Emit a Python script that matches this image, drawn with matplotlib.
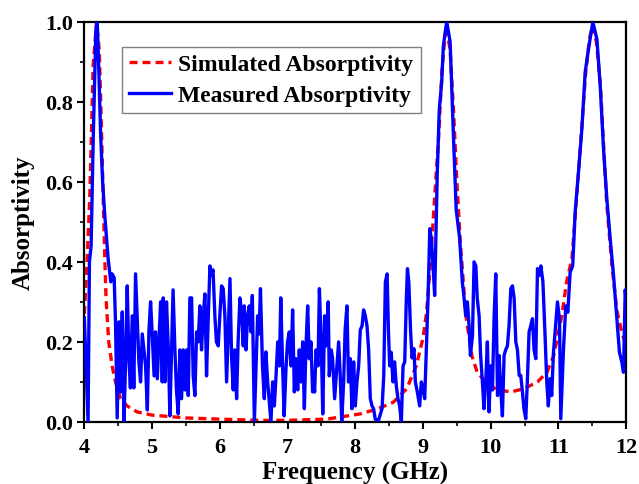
import matplotlib
matplotlib.use("Agg")
import matplotlib.pyplot as plt
from matplotlib.ticker import MultipleLocator, FormatStrFormatter

plt.rcParams['font.family'] = ['Liberation Serif', 'DejaVu Serif']
plt.rcParams['font.weight'] = 'bold'

# simulated absorptivity (smooth curve)
sim_freq = [4.0, 4.04, 4.08, 4.13, 4.18, 4.22, 4.25, 4.28, 4.30, 4.32, 4.36, 4.41, 4.46,
            4.53, 4.63, 4.78, 5.0, 5.5, 6.0, 6.6, 7.0, 7.58, 8.07, 8.32, 8.56, 8.76,
            8.9, 9.0, 9.05, 9.1, 9.17, 9.23, 9.28, 9.34, 9.40, 9.45, 9.50, 9.55, 9.63,
            9.72, 9.8, 9.95, 10.1, 10.3, 10.49, 10.69, 10.83, 10.93, 11.05, 11.12,
            11.2, 11.25, 11.32, 11.4, 11.46, 11.5, 11.56, 11.62, 11.71, 11.79, 11.86,
            11.935, 12.0]
sim_abs = [0.27, 0.40, 0.56, 0.89, 1.0, 0.93, 0.75, 0.55, 0.42, 0.31, 0.20, 0.14, 0.10,
           0.06, 0.04, 0.025, 0.017, 0.01, 0.007, 0.004, 0.004, 0.007, 0.02, 0.032, 0.049,
           0.083, 0.14, 0.21, 0.27, 0.375, 0.557, 0.71, 0.88, 0.99, 0.93, 0.78, 0.60,
           0.45, 0.27, 0.166, 0.124, 0.095, 0.08, 0.075, 0.083, 0.10, 0.124, 0.166, 0.266,
           0.35, 0.41, 0.52, 0.68, 0.87, 0.96, 0.99, 0.95, 0.84, 0.55, 0.39, 0.28,
           0.224, 0.19]

# measured absorptivity (noisy curve)
meas_freq = [4.00, 4.03, 4.055, 4.075, 4.10, 4.13, 4.17, 4.19, 4.21, 4.24, 4.27, 4.30,
             4.35, 4.39, 4.41, 4.44, 4.46, 4.485, 4.51, 4.535, 4.56, 4.585, 4.61, 4.633,
             4.657, 4.68, 4.707, 4.73, 4.756, 4.78, 4.805, 4.83, 4.855, 4.88, 4.904, 4.93,
             4.953, 4.978, 5.0, 5.03, 5.05, 5.077, 5.10, 5.126, 5.15, 5.165, 5.19, 5.213,
             5.24, 5.263, 5.287, 5.31, 5.337, 5.36, 5.386, 5.41, 5.435, 5.46, 5.485, 5.51,
             5.534, 5.558, 5.583, 5.607, 5.632, 5.657, 5.68, 5.706, 5.73, 5.755, 5.78,
             5.804, 5.83, 5.854, 5.878, 5.90, 5.927, 5.95, 5.977, 6.0, 6.026, 6.05, 6.075,
             6.10, 6.125, 6.15, 6.173, 6.198, 6.22, 6.248, 6.27, 6.297, 6.327, 6.346, 6.36,
             6.386, 6.41, 6.435, 6.46, 6.48, 6.51, 6.535, 6.558, 6.58, 6.60, 6.63, 6.657,
             6.68, 6.706, 6.73, 6.755, 6.78, 6.805, 6.83, 6.855, 6.88, 6.90, 6.928, 6.95,
             6.977, 7.0, 7.026, 7.05, 7.075, 7.10, 7.125, 7.15, 7.173, 7.198, 7.223, 7.248,
             7.27, 7.297, 7.32, 7.346, 7.37, 7.385, 7.40, 7.42, 7.45, 7.47, 7.50, 7.52,
             7.547, 7.567, 7.60, 7.616, 7.645, 7.665, 7.695, 7.73, 7.754, 7.778, 7.80,
             7.828, 7.85, 7.877, 7.90, 7.926, 7.95, 7.976, 8.0, 8.025, 8.05, 8.074, 8.10,
             8.123, 8.148, 8.173, 8.197, 8.222, 8.247, 8.27, 8.296, 8.345, 8.395, 8.42,
             8.444, 8.47, 8.49, 8.508, 8.53, 8.557, 8.58, 8.606, 8.63, 8.655, 8.68, 8.705,
             8.73, 8.754, 8.77, 8.79, 8.817, 8.838, 8.867, 8.887, 8.917, 8.95, 8.975, 9.0,
             9.025, 9.05, 9.074, 9.10, 9.123, 9.148, 9.172, 9.187, 9.21, 9.24, 9.276, 9.30,
             9.35, 9.40, 9.448, 9.49, 9.54, 9.58, 9.606, 9.63, 9.655, 9.68, 9.70, 9.73,
             9.754, 9.78, 9.80, 9.828, 9.85, 9.877, 9.90, 9.926, 9.95, 9.975, 10.0, 10.025,
             10.05, 10.074, 10.10, 10.123, 10.148, 10.172, 10.197, 10.22, 10.246, 10.27,
             10.296, 10.32, 10.345, 10.37, 10.394, 10.42, 10.443, 10.468, 10.49, 10.517,
             10.54, 10.566, 10.59, 10.616, 10.64, 10.665, 10.69, 10.715, 10.74, 10.77,
             10.80, 10.827, 10.85, 10.877, 10.90, 10.926, 10.95, 10.985, 11.015, 11.034,
             11.074, 11.108, 11.138, 11.172, 11.21, 11.246, 11.295, 11.345, 11.394,
             11.443, 11.507, 11.567, 11.616, 11.665, 11.714, 11.764, 11.813, 11.862,
             11.90, 11.936, 11.96, 11.985, 12.0]
meas_abs = [0.26, 0.12, 0.0, 0.40, 0.44, 0.70, 0.98, 1.0, 0.90, 0.72, 0.60, 0.52,
            0.41, 0.35, 0.37, 0.36, 0.25, 0.01, 0.25, 0.075, 0.275, 0.0, 0.16, 0.34,
            0.16, 0.085, 0.265, 0.085, 0.37, 0.26, 0.15, 0.10, 0.22, 0.18, 0.14, 0.03,
            0.225, 0.30, 0.225, 0.115, 0.225, 0.108, 0.20, 0.30, 0.10, 0.31, 0.10, 0.30,
            0.18, 0.015, 0.18, 0.33, 0.18, 0.08, 0.02, 0.18, 0.058, 0.18, 0.08, 0.18,
            0.066, 0.31, 0.31, 0.115, 0.066, 0.225, 0.20, 0.29, 0.18, 0.265, 0.32,
            0.115, 0.265, 0.39, 0.366, 0.38, 0.265, 0.20, 0.19, 0.265, 0.34, 0.333, 0.265,
            0.10, 0.225, 0.358, 0.166, 0.08, 0.18, 0.058, 0.20, 0.31, 0.265, 0.19, 0.29,
            0.18, 0.265, 0.29, 0.225, 0.316, 0.0, 0.14, 0.265, 0.22, 0.333, 0.14, 0.058,
            0.175, 0.10, 0.05, 0.0, 0.10, 0.04, 0.115, 0.20, 0.14, 0.31, 0.133, 0.015,
            0.133, 0.20, 0.225, 0.14, 0.28, 0.075, 0.158, 0.08, 0.18, 0.10, 0.20, 0.033,
            0.18, 0.29, 0.158, 0.20, 0.075, 0.10, 0.075, 0.18, 0.14, 0.333, 0.18, 0.02,
            0.265, 0.19, 0.30, 0.115, 0.18, 0.158, 0.058, 0.14, 0.20, 0.115, 0.0,
            0.10, 0.23, 0.29, 0.10, 0.158, 0.033, 0.15, 0.04, 0.10, 0.14, 0.23, 0.24,
            0.28, 0.265, 0.24, 0.18, 0.058, 0.04, 0.033, 0.006, 0.005, 0.033, 0.115,
            0.35, 0.37, 0.225, 0.14, 0.174, 0.10, 0.15, 0.09, 0.058, 0.04, 0.0, 0.14,
            0.15, 0.31, 0.383, 0.35, 0.225, 0.16, 0.183, 0.10, 0.074, 0.04, 0.10, 0.083,
            0.058, 0.183, 0.31, 0.483, 0.458, 0.39, 0.316, 0.44, 0.62, 0.78, 0.85, 0.94,
            1.0, 0.95, 0.72, 0.53, 0.46, 0.35, 0.31, 0.265, 0.30, 0.24, 0.166, 0.216,
            0.40, 0.39, 0.31, 0.265, 0.166, 0.10, 0.033, 0.10, 0.20, 0.025, 0.14, 0.08,
            0.265, 0.37, 0.066, 0.166, 0.08, 0.015, 0.166, 0.18, 0.19, 0.24,
            0.333, 0.34, 0.31, 0.20, 0.18, 0.116, 0.116, 0.075, 0.033, 0.008,
            0.10, 0.225, 0.24, 0.258, 0.18, 0.158, 0.383, 0.366, 0.39, 0.35,
            0.224, 0.10, 0.04, 0.108, 0.066, 0.174, 0.224, 0.30, 0.257, 0.008,
            0.183, 0.29, 0.274, 0.374, 0.39, 0.524, 0.624, 0.732, 0.874,
            0.932, 0.999, 0.957, 0.84, 0.682, 0.557, 0.457, 0.366, 0.257,
            0.174, 0.149, 0.124, 0.33, 0.30]

fig = plt.figure(figsize=(6.39, 4.85), dpi=100)
ax = fig.add_axes([0.132, 0.128, 0.848, 0.825])

ax.plot(sim_freq, sim_abs, color='red', lw=2.4, ls=(0, (2.4, 1.5)),
        label='Simulated Absorptivity', zorder=2)
ax.plot(meas_freq, meas_abs, color='#0000ff', lw=2.4,
        label='Measured Absorptivity', zorder=3)

ax.set_xlim(4, 12)
ax.set_ylim(0, 1.0)
ax.xaxis.set_major_locator(MultipleLocator(1))
ax.xaxis.set_minor_locator(MultipleLocator(0.5))
ax.yaxis.set_major_locator(MultipleLocator(0.2))
ax.yaxis.set_minor_locator(MultipleLocator(0.1))
ax.yaxis.set_major_formatter(FormatStrFormatter('%.1f'))

ax.tick_params(which='major', direction='out', length=5, width=1.5, labelsize=16, pad=3)
ax.tick_params(axis='x', which='major', pad=6)
ax.tick_params(which='minor', direction='out', length=3, width=1.2)
for lab in ax.get_xticklabels() + ax.get_yticklabels():
    lab.set_fontweight('bold')
for s in ax.spines.values():
    s.set_linewidth(1.6)

ax.set_xlabel('Frequency (GHz)', fontsize=18, fontweight='bold', labelpad=3)
ax.set_ylabel('Absorptivity', fontsize=18, fontweight='bold', labelpad=8)

leg = ax.legend(loc='upper left', bbox_to_anchor=(0.069, 0.9375), borderaxespad=0,
                prop={'weight': 'bold', 'size': 17}, fancybox=False, framealpha=1,
                edgecolor='gray', handlelength=1.8, borderpad=0.3, labelspacing=0.4,
                handletextpad=0.3)
leg.get_frame().set_linewidth(1.0)

fig.savefig('out.png', dpi=100)
